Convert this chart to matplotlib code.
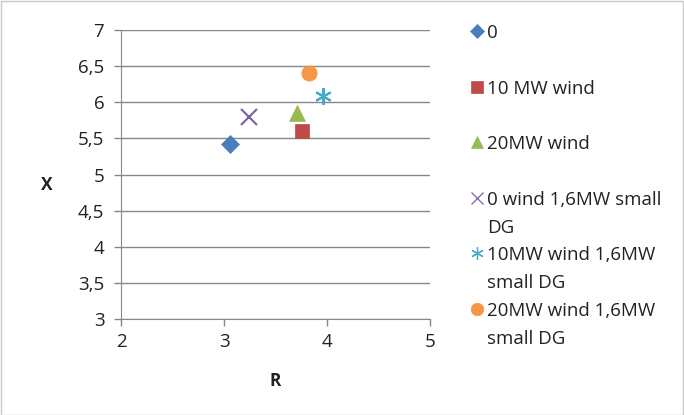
import matplotlib
matplotlib.use("Agg")
import matplotlib.pyplot as plt
from matplotlib.patches import Rectangle

plt.rcParams['font.family'] = ['Open Sans', 'DejaVu Sans']

labels = ["0", "10 MW wind", "20MW wind", "0 wind 1,6MW small\nDG",
          "10MW wind 1,6MW\nsmall DG", "20MW wind 1,6MW\nsmall DG"]
r_vals = [3.06, 3.76, 3.71, 3.24, 3.96, 3.83]
x_vals = [5.42, 5.60, 5.85, 5.80, 6.09, 6.40]
colors = ["#4A7EBB", "#BE4B48", "#98B954", "#7D60A0", "#46AAC5", "#F79646"]
markers = ["D", "s", "^", "x", (6, 2, 0), "o"]
sizes = [9, 10, 11, 11, 12, 11]

W, H = 684, 415
fig = plt.figure(figsize=(W/100, H/100), dpi=100)
fig.patches.append(Rectangle((0.5/W, 0.5/H), 1-1.5/W, 1-1.5/H, transform=fig.transFigure,
                             fill=False, edgecolor="#C8C8C8", linewidth=1))

ax = fig.add_axes([121/W, 1-319/H, (430-121)/W, (319-30)/H])
for r, x, c, m, s in zip(r_vals, x_vals, colors, markers, sizes):
    thin = m in ("x", (6, 2, 0))
    ax.plot([r], [x], linestyle="none", marker=m, color=c, markersize=s,
            markeredgewidth=1.5 if thin else 0.5, clip_on=False)

ax.set_xlim(2, 5)
ax.set_ylim(3, 7)
ax.set_xticks([2, 3, 4, 5])
ax.set_yticks([3, 3.5, 4, 4.5, 5, 5.5, 6, 6.5, 7])
ax.set_xticklabels(["2", "3", "4", "5"])
ax.set_yticklabels([f"{v:g}".replace(".", ",") for v in [3, 3.5, 4, 4.5, 5, 5.5, 6, 6.5, 7]])
ax.yaxis.grid(True, color="#878787", linewidth=1)
ax.set_axisbelow(True)
for sp in ["top", "right"]:
    ax.spines[sp].set_visible(False)
for sp in ["left", "bottom"]:
    ax.spines[sp].set_color("#878787")
ax.tick_params(axis="both", colors="#878787", labelcolor="#222222", labelsize=13.5, length=5, width=1)
ax.tick_params(axis="x", pad=5)
ax.tick_params(axis="y", pad=7)
ax.set_xlabel("R", fontsize=12.5, fontweight="bold", color="#222222", va="center", ha="center")
ax.set_ylabel("X", fontsize=12.5, fontweight="bold", color="#222222", rotation=0, va="center", ha="center")
ax.xaxis.set_label_coords((275-121)/(430-121), -(381-319)/(319-30))
ax.yaxis.set_label_coords(-(121-47)/(430-121), (319-185)/(319-30))

# legend drawn manually in pixel coordinates
lax = fig.add_axes([0, 0, 1, 1])
lax.set_xlim(0, W)
lax.set_ylim(H, 0)
lax.axis("off")
ys = [31, 87, 142, 198, 253, 309]
lsizes = [7, 9, 9, 9, 9, 9]
for y, lab, c, m, s in zip(ys, labels, colors, markers, lsizes):
    thin = m in ("x", (6, 2, 0))
    lax.plot([477], [y], linestyle="none", marker=m, color=c, markersize=s,
             markeredgewidth=0.9 if thin else 0.5)
    for i, line in enumerate(lab.split("\n")):
        lax.text(487, y + 28 * i, line, fontsize=13.5, color="#222222",
                 va="center_baseline", ha="left")

fig.savefig("out.png", dpi=100)
